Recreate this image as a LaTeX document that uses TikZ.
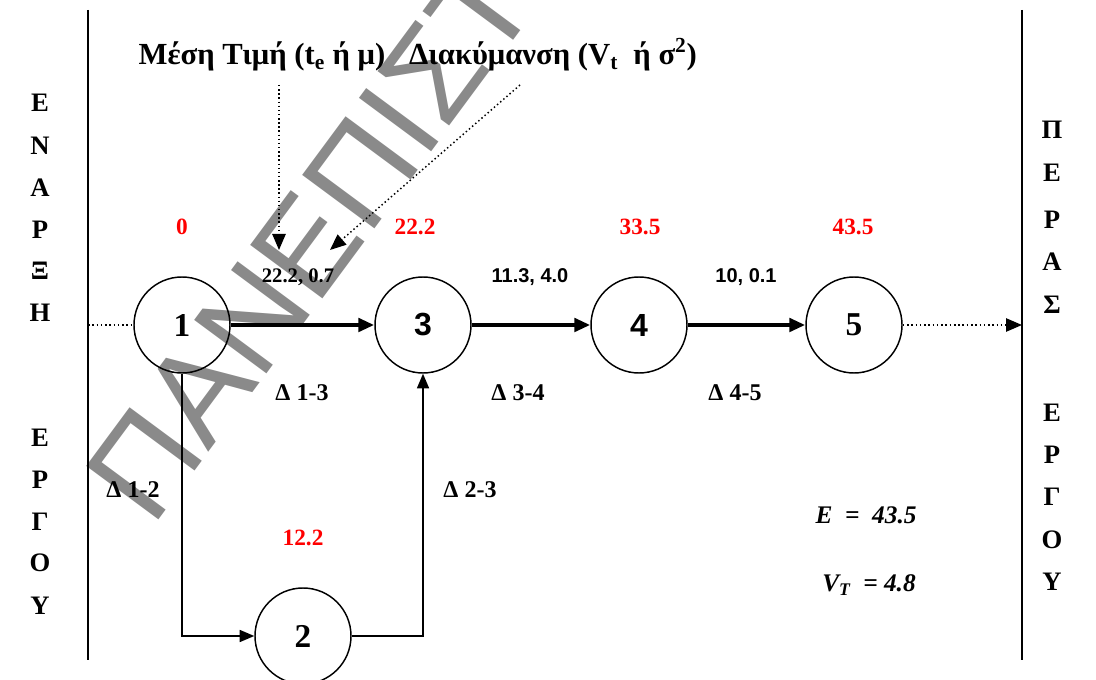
\documentclass[tikz,border=0pt]{standalone}
\usepackage{fontspec}
\setmainfont{Liberation Serif}
\newfontfamily\arialf{Liberation Sans}
\usetikzlibrary{arrows.meta}
\definecolor{wm}{RGB}{138,138,138}
\definecolor{lblred}{RGB}{255,0,0}
\begin{document}
\begin{tikzpicture}[x=0.75pt,y=-0.75pt,
  circ/.style={circle,draw,line width=1.1pt,minimum size=72pt,inner sep=0pt,font=\fontsize{25}{28}\selectfont\bfseries},
  circs/.style={circ,font=\arialf\fontsize{24}{28}\selectfont\bfseries},
  heavy/.style={line width=3pt,-{Triangle[length=12pt,width=10pt]}},
  light/.style={line width=1.3pt,-{Triangle[length=11pt,width=9pt]}},
  dots/.style={line width=1.2pt,dotted},
  ptr/.style={line width=1.1pt,dotted,-{Triangle[length=12pt,width=10pt]}},
  border/.style={line width=1.1pt},
  redl/.style={text=lblred,font=\fontsize{17.5}{20}\selectfont\bfseries,inner sep=0pt},
  edgel/.style={font=\fontsize{15.5}{18}\selectfont\bfseries,inner sep=0pt},
  edges/.style={font=\arialf\fontsize{15}{18}\selectfont\bfseries,inner sep=0pt},
  deltal/.style={font=\fontsize{18}{20}\selectfont\bfseries,inner sep=0pt},
  sidel/.style={font=\fontsize{20}{22}\selectfont\bfseries,inner sep=0pt},
  topl/.style={font=\fontsize{23}{28}\selectfont\bfseries,inner sep=0pt,anchor=base},
  resl/.style={font=\fontsize{19}{22}\selectfont\bfseries\itshape,inner sep=0pt}
]
\path[use as bounding box] (0,0) rectangle (1096,680);
% watermark
\begin{scope}
\clip (0,0) rectangle (1096,680);
\node[font=\arialf\fontsize{98}{98}\selectfont,text=wm,rotate=53.5,anchor=base west,inner sep=0pt] (wmk) at (152,529) {ΠΑΝΕΠΙΣΤΗΜΙΟ};
\end{scope}
% borders
\coordinate (bl1) at (88,10); \coordinate (bl2) at (88,660);
\coordinate (br1) at (1022,10); \coordinate (br2) at (1022,660);
\draw[border] (bl1) -- (bl2);
\draw[border] (br1) -- (br2);
% nodes
\node[circ] (n1) at (182,325) {1};
\node[circ] (n2) at (303,636) {2};
\node[circs] (n3) at (423,325) {3};
\node[circs] (n4) at (639,325) {4};
\node[circ] (n5) at (854,325) {5};
% connectors
\draw[heavy] (n1) -- (n3);
\draw[heavy] (n3) -- (n4);
\draw[heavy] (n4) -- (n5);
\draw[light] (n1.south) |- (n2.west);
\draw[light] (n2.east) -| (n3.south);
\coordinate (lstart) at (88,325);
\coordinate (rend) at (1022,325);
\draw[dots] (lstart) -- (n1.west);
\draw[dots,-{Triangle[length=12pt,width=10pt]}] (n5.east) -- (rend);
% pointer arrows
\coordinate (p1a) at (279,85); \coordinate (p1b) at (279,250);
\coordinate (p2a) at (520,85); \coordinate (p2b) at (330,250);
\draw[ptr] (p1a) -- (p1b);
\draw[ptr] (p2a) -- (p2b);
% top labels
\node[topl] (t1) at (262,65) {Μέση Τιμή (t\textsubscript{e} ή μ)};
\node[topl] (t2) at (553,65) {Διακύμανση (V\textsubscript{t}\ \ ή σ\textsuperscript{2})};
% red labels
\node[redl] (r1) at (182,227) {0};
\node[redl] (r3) at (415,227) {22.2};
\node[redl] (r4) at (640,227) {33.5};
\node[redl] (r5) at (853,227) {43.5};
\node[redl] (r2) at (303,538) {12.2};
% edge labels
\node[edgel] (e13) at (298,277) {22.2, 0.7};
\node[edges] (e34) at (530,277) {11.3, 4.0};
\node[edges] (e45) at (746,277) {10, 0.1};
\node[deltal] (d13) at (302,393) {Δ 1-3};
\node[deltal] (d34) at (518,393) {Δ 3-4};
\node[deltal] (d45) at (735,393) {Δ 4-5};
\node[deltal] (d12) at (133,490) {Δ 1-2};
\node[deltal] (d23) at (470,490) {Δ 2-3};
% results
\node[resl] (res1) at (866,515) {E\ \ =\ \ 43.5};
\node[resl] (res2) at (869,585) {V\textsubscript{T}\ \ = 4.8};
% left side letters
\foreach \ch/\yy [count=\i] in {Ε/103,Ν/146,Α/188,Ρ/230,Ξ/271,Η/313,Ε/438,Ρ/480,Γ/522,Ο/563,Υ/606}
  \node[sidel] (ls\i) at (40,\yy) {\ch};
% right side letters
\foreach \ch/\yy [count=\i] in {Π/130,Ε/173,Ρ/220,Α/262,Σ/305,Ε/413,Ρ/455,Γ/497,Ο/540,Υ/582}
  \node[sidel] (rs\i) at (1052,\yy) {\ch};
\end{tikzpicture}
\end{document}
